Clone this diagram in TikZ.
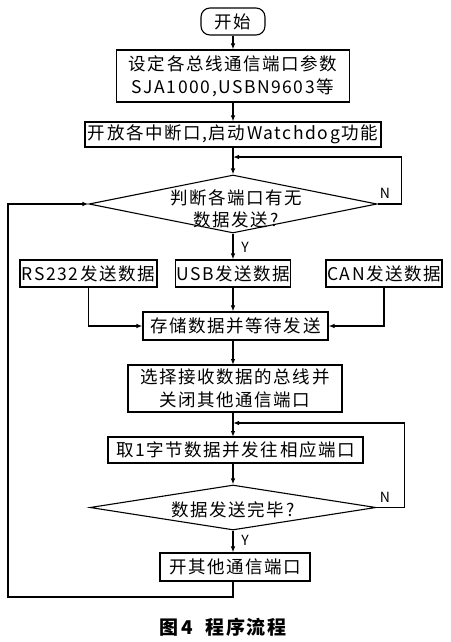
\documentclass[tikz,border=0pt]{standalone}
\usepackage{fontspec}
\setmainfont{Noto Sans CJK SC}
\newfontfamily\spaced[LetterSpace=9]{Noto Sans CJK SC}
\usetikzlibrary{shapes.geometric,arrows.meta}
\newcommand\myfs{\spaced\fontsize{17.5}{22.5}\selectfont}
\begin{document}
\begin{tikzpicture}[x=1pt,y=-1pt,line width=1.1pt,
  box/.style={draw,rectangle,inner sep=0pt,font=\myfs,align=center},
  dia/.style={draw,diamond,inner sep=0pt},
  dtext/.style={font=\myfs,align=center,inner sep=0pt},
  arr/.style={-{Latex[length=6pt,width=4.5pt]}},
  lbl/.style={font=\fontsize{14}{16}\selectfont,inner sep=0pt}]
\useasboundingbox (0,0) rectangle (450,642);
\node[box,rounded corners=9pt,minimum width=64,minimum height=27] (start) at (233,21.5) {开始};
\node[box,minimum width=233,minimum height=52] (b1) at (233,76) {设定各总线通信端口参数\\SJA1000,USBN9603等};
\node[box,minimum width=296,minimum height=25] (b2) at (233,134.5) {开放各中断口,启动Watchdog功能};
\node[dia,minimum width=288,minimum height=58] (d1) at (233,204) {};
\node[dtext] (d1t) at (236,209) {判断各端口有无\\数据发送?};
\node[box,minimum width=137,minimum height=27] (rs) at (88.5,273.5) {RS232发送数据};
\node[box,minimum width=115,minimum height=27] (usb) at (233,273.5) {USB发送数据};
\node[box,minimum width=116,minimum height=27] (can) at (384,273.5) {CAN发送数据};
\node[box,minimum width=185,minimum height=28] (store) at (235.5,326) {存储数据并等待发送};
\node[box,minimum width=214,minimum height=47] (sel) at (235,388.5) {选择接收数据的总线并\\关闭其他通信端口};
\node[box,minimum width=255,minimum height=26] (byte) at (235.5,450) {取1字节数据并发往相应端口};
\node[dia,minimum width=286,minimum height=45] (d2) at (233,507.5) {};
\node[dtext] (d2t) at (233,510) {数据发送完毕?};
\node[box,minimum width=150,minimum height=28] (end) at (235,567) {开其他通信端口};
\node[font=\spaced\fontsize{19}{22}\selectfont\bfseries,inner sep=0pt] (cap) at (223,627) {图\,4\ \ 程序流程};
\coordinate (j1) at (233,157);
\coordinate (j2) at (233,423);
\coordinate (l1) at (8,597);
\draw[arr] (start.south) -- (start.south |- b1.north);
\draw[arr] (b1.south) -- (b1.south |- b2.north);
\draw[arr] (b2.south) -- (d1.north);
\draw[arr] (d1.east) -- ++(24,0) |- (j1);
\node[lbl] (n1) at (385,193) {N};
\draw[arr] (d1.south) -- (usb.north);
\node[lbl] (y1) at (245,247) {Y};
\draw[arr] (usb.south) -- (usb.south |- store.north);
\draw[arr] (rs.south) |- (store.west);
\draw[arr] (can.south) |- (store.east);
\draw[arr] (233,340) -- (233,365);
\draw[arr] (233,412) -- (233,437);
\draw[arr] (233,463) -- (d2.north);
\draw[arr] (d2.east) -- ++(28,0) |- (j2);
\node[lbl] (n2) at (385,497) {N};
\draw[arr] (d2.south) -- (d2.south |- end.north);
\node[lbl] (y2) at (245,540) {Y};
\draw[arr] (233,581) |- (l1) |- (d1.west);
\end{tikzpicture}
\end{document}
